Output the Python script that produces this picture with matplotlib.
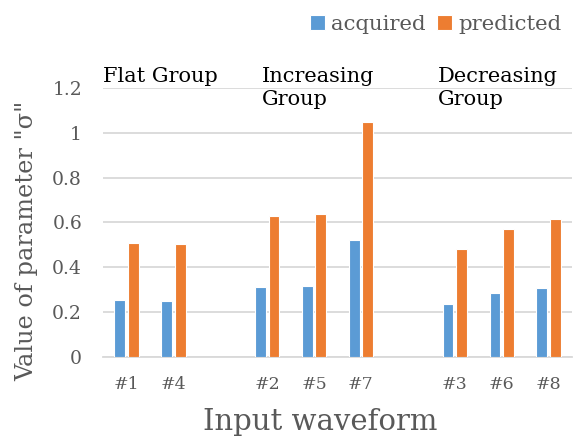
import numpy as np
import matplotlib
matplotlib.use("Agg")
from matplotlib import pyplot as plt

# data
labels = ["#1", "#4", "", "#2", "#5", "#7", "", "#3", "#6", "#8"]
acquired = [0.253, 0.251, np.nan, 0.313, 0.317, 0.522, np.nan, 0.238, 0.285, 0.307]
predicted = [0.507, 0.503, np.nan, 0.628, 0.636, 1.05, np.nan, 0.482, 0.572, 0.616]
group_names = ["Flat Group", "Increasing\nGroup", "Decreasing\nGroup"]
group_pos = [-0.5, 2.88, 6.63]
yticks = [0, 0.2, 0.4, 0.6, 0.8, 1.0, 1.2]
ytick_labels = ["0", "0.2", "0.4", "0.6", "0.8", "1", "1.2"]

plt.rcParams['font.family'] = ['DejaVu Serif']
grey = "#595959"
blue = "#5B9BD5"
orange = "#ED7D31"

fig = plt.figure(figsize=(5.75, 4.4), dpi=100)
ax = fig.add_axes([0.179, 0.189, 0.816, 0.611])

x = np.arange(len(labels))
w = 0.23
ax.bar(x - 0.145, acquired, w, color=blue, edgecolor="white", linewidth=0.8, label="acquired", zorder=3)
ax.bar(x + 0.145, predicted, w, color=orange, edgecolor="white", linewidth=0.8, label="predicted", zorder=3)

ax.set_xlim(-0.5, 9.5)
ax.set_ylim(0, 1.2)
ax.set_yticks(yticks)
ax.set_yticklabels(ytick_labels)
ax.set_xticks([i for i in x if labels[i]])
ax.set_xticklabels([l for l in labels if l])
ax.tick_params(axis="x", length=0, labelsize=12.5, colors=grey, pad=14)
ax.tick_params(axis="y", length=0, labelsize=13.5, colors=grey, pad=15)
ax.grid(axis="y", color="#D9D9D9", linewidth=1.3, zorder=0)
for s in ["top", "right", "left"]:
    ax.spines[s].set_visible(False)
ax.spines["bottom"].set_color("#D9D9D9")
ax.spines["bottom"].set_linewidth(1.3)

ax.set_xlabel("Input waveform", fontsize=21, color=grey)
ax.xaxis.set_label_coords(0.463, -0.19)
ax.set_ylabel('Value of parameter "σ"', fontsize=17.3, color=grey)
ax.yaxis.set_label_coords(-0.138, 0.43)

for name, p in zip(group_names, group_pos):
    ax.text(p, 1.21, name.split("\n")[0], fontsize=15, color="black", va="bottom", ha="left")
    if "\n" in name:
        ax.text(p, 1.19, name.split("\n")[1], fontsize=15, color="black", va="top", ha="left")

leg = fig.legend(loc="upper right", bbox_to_anchor=(1.003, 1.0), ncol=2, frameon=False,
                 fontsize=15.3, handlelength=0.7, handleheight=0.7, handletextpad=0.3,
                 columnspacing=0.55, borderaxespad=0.3)
for t in leg.get_texts():
    t.set_color(grey)

fig.savefig("out.png", dpi=100)
